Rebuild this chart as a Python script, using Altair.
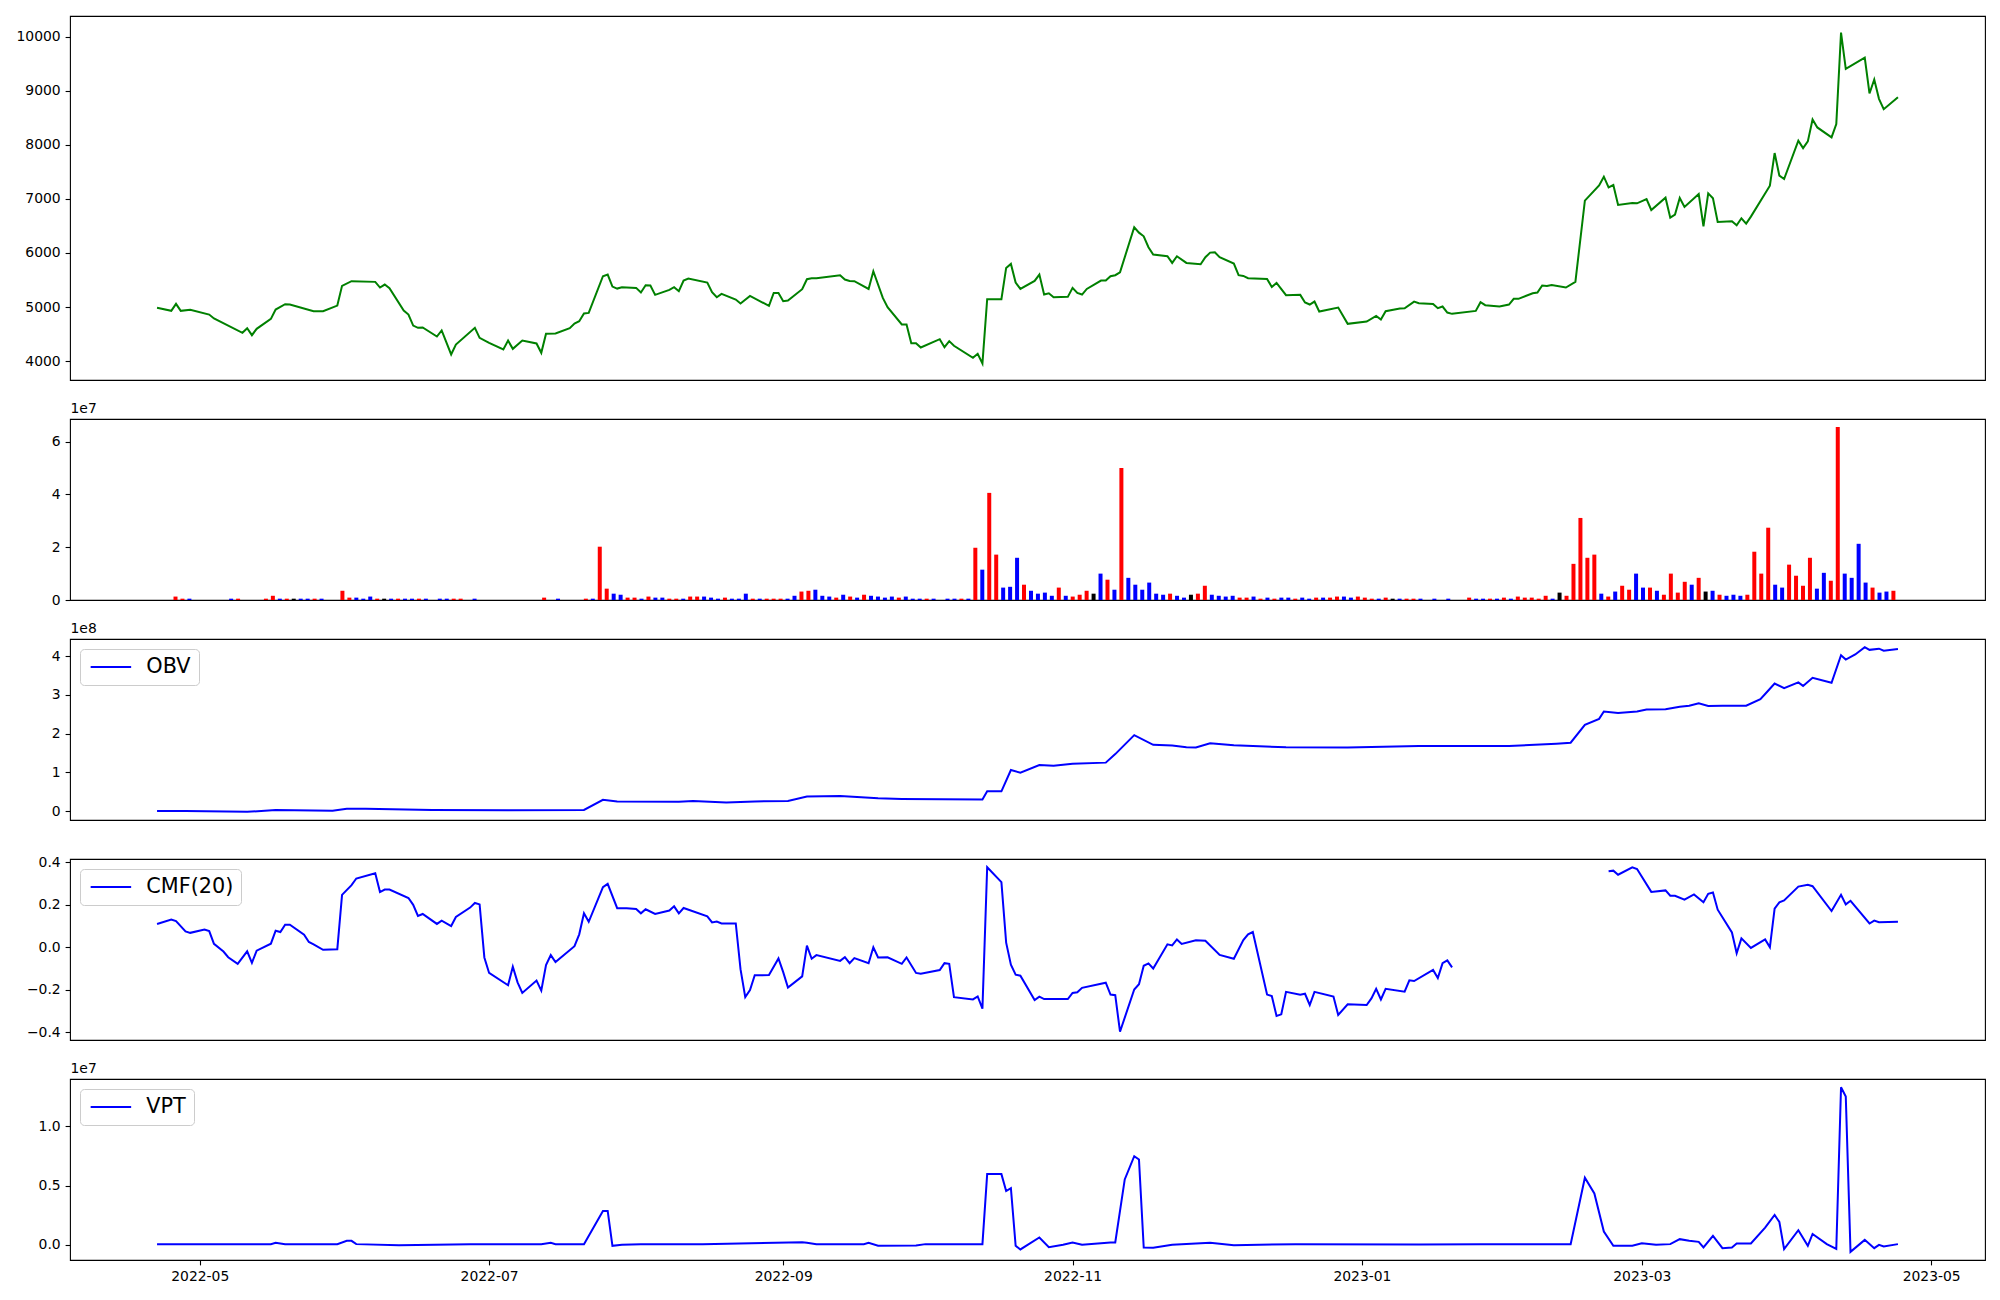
import altair as alt
import pandas as pd

START = "2022-04-22"   # first trading day in the data; day offsets below count from here

# ---------------- price (close) ----------------
price_day = [0, 3, 4, 5, 7, 11, 12, 18, 19, 20, 21, 24, 25, 27, 28, 33, 35, 38, 39, 41,
             46, 47, 48, 49, 52, 53, 54, 55, 56, 59, 60, 62, 63, 67, 68, 70, 73, 74, 75, 77,
             80, 81, 82, 84, 87, 88, 89, 90, 91, 94, 95, 96, 97, 98, 101, 102, 103, 104, 105, 108,
             109, 110, 111, 112, 116, 117, 118, 119, 122, 123, 125, 129, 130, 131, 132, 133, 136, 137, 138, 139,
             144, 145, 146, 147, 150, 151, 153, 154, 157, 158, 159, 160, 161, 165, 166, 167, 168, 172, 173, 174,
             175, 178, 179, 180, 181, 182, 185, 186, 187, 188, 189, 192, 193, 194, 195, 196, 199, 200, 201, 202,
             203, 206, 207, 208, 209, 210, 213, 214, 215, 217, 220, 221, 222, 223, 224, 227, 228, 229, 230, 234,
             235, 236, 238, 241, 242, 243, 244, 245, 249, 251, 255, 257, 258, 259, 262, 263, 265, 266, 269, 270,
             271, 272, 273, 278, 279, 280, 283, 285, 286, 287, 290, 291, 292, 293, 294, 297, 299, 301, 304, 305,
             306, 307, 308, 311, 312, 314, 315, 318, 319, 320, 321, 322, 325, 326, 327, 328, 329, 332, 333, 334,
             335, 336, 340, 341, 342, 343, 346, 347, 348, 349, 350, 353, 354, 355, 356, 360, 361, 362, 363, 364,
             367]
price_val = [4985, 4930, 5058, 4929, 4948, 4861, 4788, 4523, 4609, 4480, 4597, 4781, 4954, 5052, 5046, 4923, 4923, 5027, 5391, 5477,
             5465, 5360, 5415, 5348, 4935, 4861, 4658, 4615, 4621, 4455, 4566, 4123, 4307, 4615, 4430, 4338, 4215, 4381, 4227, 4381,
             4326, 4154, 4505, 4511, 4609, 4695, 4738, 4880, 4892, 5569, 5600, 5378, 5341, 5366, 5354, 5268, 5403, 5397, 5225, 5317,
             5366, 5292, 5489, 5526, 5452, 5274, 5181, 5243, 5138, 5065, 5206, 5021, 5261, 5261, 5108, 5120, 5329, 5514, 5532, 5532,
             5588, 5508, 5483, 5477, 5335, 5661, 5169, 4997, 4677, 4677, 4332, 4332, 4252, 4406, 4258, 4369, 4283, 4061, 4135, 3957,
             5145, 5145, 5723, 5797, 5452, 5335, 5483, 5600, 5231, 5255, 5181, 5188, 5354, 5261, 5231, 5335, 5489, 5489, 5569, 5588,
             5643, 6474, 6375, 6308, 6105, 5969, 5938, 5815, 5938, 5815, 5791, 5920, 6006, 6012, 5920, 5803, 5588, 5575, 5532, 5520,
             5372, 5446, 5218, 5225, 5083, 5046, 5101, 4917, 4991, 4689, 4732, 4837, 4769, 4923, 4972, 4978, 5101, 5071, 5058, 4978,
             5009, 4898, 4874, 4929, 5089, 5034, 5009, 5046, 5151, 5151, 5255, 5268, 5397, 5391, 5409, 5360, 5465, 6966, 7249, 7409,
             7212, 7255, 6886, 6923, 6917, 6997, 6794, 7021, 6652, 6708, 7015, 6849, 7089, 6492, 7101, 7009, 6572, 6584, 6511, 6640,
             6541, 6671, 7243, 7846, 7428, 7366, 8074, 7938, 8061, 8468, 8320, 8135, 8381, 10074, 9403, 9612, 8948, 9206, 8849, 8658,
             8880]

# ---------------- volume bars (bar number, volume in 1e7, colour) ----------------
vol_index = [2, 3, 4, 10, 11, 15, 16, 17, 18, 19, 20, 21, 22, 23, 26, 27, 28, 29, 30, 31,
             32, 33, 34, 35, 36, 37, 38, 40, 41, 42, 43, 45, 55, 57, 61, 62, 63, 64, 65, 66,
             67, 68, 69, 70, 71, 72, 73, 74, 75, 76, 77, 78, 79, 80, 81, 82, 83, 84, 85, 86,
             87, 88, 89, 90, 91, 92, 93, 94, 95, 96, 97, 98, 99, 100, 101, 102, 103, 104, 105, 106,
             107, 108, 109, 110, 111, 113, 114, 115, 116, 117, 118, 119, 120, 121, 122, 123, 124, 125, 126, 127,
             128, 129, 130, 131, 132, 133, 134, 135, 136, 137, 138, 139, 140, 141, 142, 143, 144, 145, 146, 147,
             148, 149, 150, 151, 152, 153, 154, 155, 156, 157, 158, 159, 160, 161, 162, 163, 164, 165, 166, 167,
             168, 169, 170, 171, 172, 173, 174, 175, 176, 177, 178, 179, 180, 181, 183, 185, 188, 189, 190, 191,
             192, 193, 194, 195, 196, 197, 198, 199, 200, 201, 202, 203, 204, 205, 206, 207, 208, 209, 210, 211,
             212, 213, 214, 215, 216, 217, 218, 219, 220, 221, 222, 223, 224, 225, 226, 227, 228, 229, 230, 231,
             232, 233, 234, 235, 236, 237, 238, 239, 240, 241, 242, 243, 244, 245, 246, 247, 248, 249]
vol_value = [0.13, 0.05, 0.05, 0.05, 0.05, 0.05, 0.16, 0.05, 0.05, 0.05, 0.05, 0.05, 0.05, 0.05, 0.35, 0.09, 0.09, 0.05, 0.13, 0.05,
             0.05, 0.05, 0.05, 0.05, 0.05, 0.05, 0.05, 0.05, 0.05, 0.05, 0.05, 0.05, 0.09, 0.05, 0.05, 0.05, 2.02, 0.43, 0.24, 0.20,
             0.09, 0.09, 0.05, 0.13, 0.09, 0.09, 0.05, 0.05, 0.05, 0.13, 0.13, 0.13, 0.09, 0.05, 0.09, 0.05, 0.05, 0.24, 0.05, 0.05,
             0.05, 0.05, 0.05, 0.05, 0.16, 0.32, 0.35, 0.39, 0.16, 0.13, 0.09, 0.20, 0.13, 0.09, 0.20, 0.16, 0.13, 0.09, 0.13, 0.09,
             0.13, 0.05, 0.05, 0.05, 0.05, 0.05, 0.05, 0.05, 0.05, 1.98, 1.15, 4.06, 1.72, 0.47, 0.50, 1.60, 0.58, 0.35, 0.24, 0.28,
             0.16, 0.47, 0.16, 0.13, 0.20, 0.35, 0.24, 1.00, 0.77, 0.39, 5.00, 0.84, 0.58, 0.39, 0.66, 0.24, 0.20, 0.24, 0.16, 0.09,
             0.20, 0.24, 0.54, 0.20, 0.16, 0.13, 0.16, 0.09, 0.09, 0.13, 0.05, 0.09, 0.05, 0.09, 0.09, 0.05, 0.09, 0.05, 0.09, 0.09,
             0.09, 0.13, 0.13, 0.09, 0.13, 0.09, 0.05, 0.05, 0.09, 0.05, 0.05, 0.05, 0.05, 0.05, 0.05, 0.05, 0.09, 0.05, 0.05, 0.05,
             0.05, 0.09, 0.05, 0.13, 0.09, 0.09, 0.05, 0.16, 0.05, 0.28, 0.16, 1.37, 3.11, 1.60, 1.72, 0.24, 0.13, 0.32, 0.54, 0.39,
             1.00, 0.47, 0.47, 0.35, 0.20, 1.00, 0.28, 0.69, 0.58, 0.84, 0.32, 0.35, 0.20, 0.16, 0.20, 0.16, 0.20, 1.83, 1.00, 2.74,
             0.58, 0.47, 1.34, 0.92, 0.54, 1.60, 0.43, 1.03, 0.73, 6.56, 1.00, 0.84, 2.13, 0.66, 0.47, 0.28, 0.32, 0.35]
vol_color = ["red", "red", "blue", "blue", "red", "red", "red", "blue", "red", "black", "blue", "blue", "red", "blue", "red", "red", "blue", "blue", "blue", "red",
             "black", "blue", "red", "blue", "blue", "red", "blue", "blue", "blue", "red", "red", "blue", "red", "blue", "red", "blue", "red", "red", "blue", "blue",
             "red", "red", "blue", "red", "blue", "blue", "red", "red", "blue", "red", "red", "blue", "blue", "blue", "red", "blue", "blue", "blue", "red", "blue",
             "red", "red", "red", "blue", "blue", "red", "red", "blue", "blue", "blue", "red", "blue", "red", "blue", "red", "blue", "blue", "blue", "blue", "red",
             "blue", "blue", "blue", "red", "blue", "blue", "blue", "red", "blue", "red", "blue", "red", "red", "blue", "blue", "blue", "red", "blue", "blue", "blue",
             "blue", "red", "blue", "red", "red", "red", "black", "blue", "red", "blue", "red", "blue", "blue", "blue", "blue", "blue", "blue", "red", "blue", "blue",
             "black", "red", "red", "blue", "blue", "blue", "blue", "red", "red", "blue", "red", "blue", "red", "blue", "blue", "red", "blue", "blue", "red", "blue",
             "red", "red", "blue", "blue", "red", "red", "red", "blue", "red", "black", "blue", "red", "red", "blue", "blue", "blue", "red", "blue", "blue", "red",
             "blue", "red", "blue", "red", "red", "red", "red", "red", "blue", "black", "red", "red", "red", "red", "red", "blue", "red", "blue", "red", "red",
             "blue", "blue", "red", "blue", "red", "red", "red", "red", "blue", "red", "black", "blue", "red", "blue", "blue", "blue", "red", "red", "red", "red",
             "blue", "blue", "red", "red", "red", "red", "blue", "blue", "red", "red", "blue", "blue", "blue", "blue", "red", "blue", "blue", "red"]
N_BARS = 250

# ---------------- OBV (1e8) ----------------
obv_day = [0, 6, 19, 25, 37, 40, 44, 58, 74, 90, 94, 97, 110, 113, 120, 126, 133, 137, 144, 152,
           157, 174, 175, 178, 180, 182, 186, 189, 193, 200, 202, 206, 210, 214, 217, 219, 222, 227, 238, 251,
           266, 285, 295, 298, 301, 304, 305, 308, 312, 314, 318, 321, 323, 325, 327, 330, 335, 338, 339, 341,
           343, 346, 347, 349, 353, 355, 356, 358, 360, 361, 363, 364, 367]
obv_val = [0.00, 0.00, -0.02, 0.03, 0.01, 0.06, 0.06, 0.03, 0.02, 0.03, 0.29, 0.25, 0.24, 0.26, 0.22, 0.25, 0.26, 0.375, 0.39, 0.33,
           0.315, 0.30, 0.51, 0.51, 1.06, 0.99, 1.19, 1.17, 1.22, 1.25, 1.47, 1.96, 1.71, 1.69, 1.65, 1.64, 1.75, 1.70, 1.645, 1.64,
           1.68, 1.68, 1.74, 1.765, 2.225, 2.38, 2.57, 2.53, 2.57, 2.62, 2.63, 2.69, 2.72, 2.78, 2.71, 2.72, 2.72, 2.89, 3.02, 3.29,
           3.17, 3.32, 3.23, 3.44, 3.31, 4.02, 3.91, 4.04, 4.23, 4.16, 4.19, 4.14, 4.18]

# ---------------- CMF(20) (two pieces, undefined in between) ----------------
cmf1_day = [0, 3, 4, 6, 7, 10, 11, 12, 14, 15, 17, 19, 20, 21, 24, 25, 26, 27, 28, 31,
            32, 33, 35, 38, 39, 41, 42, 46, 47, 48, 49, 53, 54, 55, 56, 59, 60, 62, 63, 66,
            67, 68, 69, 70, 74, 75, 76, 77, 80, 81, 82, 83, 84, 88, 89, 90, 91, 94, 95, 97,
            99, 101, 102, 103, 105, 108, 109, 110, 111, 116, 117, 118, 119, 122, 123, 124, 125, 126, 129, 131,
            132, 133, 136, 137, 138, 139, 144, 145, 146, 147, 150, 151, 152, 154, 157, 158, 160, 161, 165, 166,
            167, 168, 172, 173, 174, 175, 178, 179, 180, 181, 182, 185, 186, 187, 192, 193, 194, 195, 200, 201,
            202, 203, 206, 207, 208, 209, 210, 213, 214, 215, 216, 219, 221, 224, 227, 229, 230, 231, 234, 235,
            236, 237, 238, 241, 242, 243, 244, 248, 249, 251, 255, 256, 257, 258, 259, 263, 264, 265, 269, 270,
            271, 272, 273]
cmf1_val = [0.110, 0.131, 0.123, 0.075, 0.068, 0.084, 0.076, 0.016, -0.020, -0.047, -0.078, -0.019, -0.073, -0.016, 0.017, 0.078, 0.072, 0.106, 0.106, 0.059,
            0.025, 0.014, -0.012, -0.009, 0.247, 0.293, 0.324, 0.349, 0.260, 0.272, 0.272, 0.232, 0.200, 0.148, 0.157, 0.110, 0.125, 0.100, 0.143, 0.187,
            0.209, 0.202, -0.048, -0.121, -0.179, -0.092, -0.165, -0.215, -0.157, -0.204, -0.084, -0.037, -0.070, 0.005, 0.061, 0.160, 0.120, 0.283, 0.299, 0.184,
            0.184, 0.180, 0.160, 0.179, 0.157, 0.173, 0.193, 0.160, 0.185, 0.146, 0.117, 0.121, 0.112, 0.112, -0.103, -0.235, -0.202, -0.132, -0.131, -0.053,
            -0.117, -0.190, -0.137, 0.008, -0.054, -0.037, -0.064, -0.047, -0.075, -0.051, -0.075, 0.000, -0.048, -0.047, -0.078, -0.048, -0.121, -0.125, -0.107, -0.075,
            -0.078, -0.235, -0.246, -0.232, -0.289, 0.377, 0.307, 0.022, -0.082, -0.129, -0.134, -0.249, -0.233, -0.244, -0.244, -0.215, -0.212, -0.191, -0.167, -0.223,
            -0.226, -0.398, -0.199, -0.174, -0.087, -0.076, -0.100, 0.014, 0.009, 0.037, 0.016, 0.033, 0.031, -0.036, -0.054, 0.034, 0.061, 0.072, -0.223, -0.230,
            -0.324, -0.316, -0.210, -0.224, -0.219, -0.272, -0.210, -0.232, -0.319, -0.269, -0.272, -0.241, -0.196, -0.246, -0.196, -0.209, -0.156, -0.159, -0.107, -0.145,
            -0.075, -0.062, -0.095]
cmf2_day = [306, 307, 308, 311, 312, 315, 318, 319, 320, 322, 324, 326, 327, 328, 329, 332, 333, 334, 336, 339,
            340, 341, 342, 343, 346, 348, 349, 353, 355, 356, 357, 361, 362, 363, 367]
cmf2_val = [0.358, 0.361, 0.342, 0.377, 0.369, 0.261, 0.268, 0.243, 0.243, 0.224, 0.249, 0.212, 0.252, 0.258, 0.177, 0.070, -0.028, 0.042, -0.003, 0.037,
            0.000, 0.182, 0.212, 0.221, 0.286, 0.294, 0.288, 0.171, 0.247, 0.202, 0.219, 0.112, 0.126, 0.118, 0.120]

# ---------------- VPT (1e7) ----------------
vpt_day = [0, 24, 25, 27, 38, 40, 41, 42, 51, 66, 81, 83, 84, 90, 94, 95, 96, 98, 102, 115,
           136, 137, 139, 149, 150, 152, 160, 162, 174, 175, 178, 179, 180, 181, 182, 186, 188, 191, 193, 195,
           201, 202, 204, 206, 207, 208, 210, 214, 222, 227, 240, 266, 279, 298, 301, 303, 305, 307, 311, 313,
           316, 319, 321, 323, 325, 326, 328, 330, 332, 333, 336, 339, 341, 342, 343, 346, 348, 349, 352, 354,
           355, 356, 357, 360, 362, 363, 364, 367]
vpt_val = [0.006, 0.006, 0.017, 0.006, 0.006, 0.034, 0.034, 0.006, -0.003, 0.006, 0.006, 0.017, 0.006, 0.006, 0.286, 0.286, -0.008, 0.000, 0.006, 0.006,
           0.022, 0.017, 0.006, 0.006, 0.017, -0.008, -0.006, 0.006, 0.006, 0.597, 0.597, 0.454, 0.479, -0.008, -0.039, 0.062, -0.020, 0.000, 0.020, 0.000,
           0.020, 0.020, 0.552, 0.748, 0.720, -0.022, -0.025, 0.000, 0.017, -0.003, 0.006, 0.003, 0.006, 0.006, 0.566, 0.434, 0.112, -0.008, -0.008, 0.014,
           0.000, 0.006, 0.048, 0.034, 0.025, -0.022, 0.076, -0.028, -0.022, 0.011, 0.011, 0.146, 0.252, 0.193, -0.036, 0.123, -0.008, 0.092, 0.006, -0.034,
           1.330, 1.252, -0.059, 0.042, -0.028, 0.000, -0.014, 0.006]

# tick labels
month_ticks = ["2022-05-01", "2022-07-01", "2022-09-01", "2022-11-01", "2023-01-01", "2023-03-01", "2023-05-01"]
price_ticks = [4000, 5000, 6000, 7000, 8000, 9000, 10000]

# ---------------------------------------------------------------------------
base = pd.Timestamp(START)
DAY_MS = 86400000


def to_ms(days):
    return [int(base.value // 10**6) + int(round(d * DAY_MS)) for d in days]


span = max(price_day)
xdom = to_ms([-0.05 * span, 1.05 * span])
tick_ms = [int(pd.Timestamp(t).value // 10**6) for t in month_ticks]

W = 1915
H1, H = 364, 181
FONT = "DejaVu Sans"
FS = 13.9
LEG_FS = 20.8

xscale = alt.Scale(type="utc", domain=xdom, nice=False)


def yaxis(values, label_expr=None, offset_title=None, fmt=None):
    kw = dict(values=values, title=offset_title if offset_title else None)
    if label_expr:
        kw["labelExpr"] = label_expr
    if fmt:
        kw["format"] = fmt
    if offset_title:
        kw.update(titleAngle=0, titleAlign="left", titleBaseline="bottom",
                  titleX=0, titleY=-4)
    return alt.Axis(**kw)


def legend():
    # a wide horizontal line as the legend key (matplotlib style handle)
    return alt.Legend(title=None, orient="top-left", offset=10,
                      symbolType="M-2.7,0H2.7", symbolSize=225, symbolStrokeWidth=2,
                      symbolOffset=13, symbolFillColor="transparent",
                      labelFontSize=LEG_FS, labelFont=FONT, labelColor="black",
                      labelOffset=25, padding=7.5, fillColor="rgba(255,255,255,0.8)",
                      strokeColor="#cccccc", cornerRadius=4)


# price
price_df = pd.DataFrame({"t": to_ms(price_day), "v": price_val})
p1 = alt.Chart(price_df).mark_line(color="#008000", strokeWidth=2).encode(
    x=alt.X("t:T", scale=xscale, axis=None),
    y=alt.Y("v:Q", scale=alt.Scale(domain=[3651, 10380], nice=False, zero=False),
            axis=yaxis(price_ticks, fmt="d")),
).properties(width=W, height=H1)

# volume
vol_df = pd.DataFrame({"i": vol_index, "v": [x * 1e7 for x in vol_value], "c": vol_color})
last = N_BARS - 1
p2 = alt.Chart(vol_df).mark_bar(size=4).encode(
    x=alt.X("i:Q", scale=alt.Scale(domain=[-0.05 * last, 1.05 * last], nice=False, zero=False), axis=None),
    y=alt.Y("v:Q", scale=alt.Scale(domain=[0, 6.86e7], nice=False),
            axis=yaxis([0, 2e7, 4e7, 6e7], label_expr="format(datum.value/1e7, 'd')", offset_title="1e7")),
    color=alt.Color("c:N", scale=None),
).properties(width=W, height=H)

# OBV
obv_df = pd.DataFrame({"t": to_ms(obv_day), "v": [x * 1e8 for x in obv_val], "name": "OBV"})
p3 = alt.Chart(obv_df).mark_line(strokeWidth=2).encode(
    x=alt.X("t:T", scale=xscale, axis=None),
    y=alt.Y("v:Q", scale=alt.Scale(domain=[-0.23e8, 4.44e8], nice=False, zero=False),
            axis=yaxis([0, 1e8, 2e8, 3e8, 4e8], label_expr="format(datum.value/1e8, 'd')", offset_title="1e8")),
    color=alt.Color("name:N", scale=alt.Scale(domain=["OBV"], range=["#0000ff"]), legend=legend()),
).properties(width=W, height=H)

# CMF
cmf_df = pd.concat([
    pd.DataFrame({"t": to_ms(cmf1_day), "v": cmf1_val, "seg": 0}),
    pd.DataFrame({"t": to_ms(cmf2_day), "v": cmf2_val, "seg": 1}),
])
cmf_df["name"] = "CMF(20)"
p4 = alt.Chart(cmf_df).mark_line(strokeWidth=2).encode(
    x=alt.X("t:T", scale=xscale, axis=None),
    y=alt.Y("v:Q", scale=alt.Scale(domain=[-0.437, 0.416], nice=False, zero=False),
            axis=yaxis([-0.4, -0.2, 0.0, 0.2, 0.4], fmt=".1f")),
    detail="seg:N",
    color=alt.Color("name:N", scale=alt.Scale(domain=["CMF(20)"], range=["#0000ff"]), legend=legend()),
).properties(width=W, height=H)

# VPT
vpt_df = pd.DataFrame({"t": to_ms(vpt_day), "v": [x * 1e7 for x in vpt_val], "name": "VPT"})
p5 = alt.Chart(vpt_df).mark_line(strokeWidth=2).encode(
    x=alt.X("t:T", scale=xscale,
            axis=alt.Axis(values=tick_ms, labelExpr="utcFormat(datum.value, '%Y-%m')", title=None,
                          labelOverlap=False, labelFlush=False)),
    y=alt.Y("v:Q", scale=alt.Scale(domain=[-0.128e7, 1.40e7], nice=False, zero=False),
            axis=yaxis([0, 0.5e7, 1e7], label_expr="format(datum.value/1e7, '.1f')", offset_title="1e7")),
    color=alt.Color("name:N", scale=alt.Scale(domain=["VPT"], range=["#0000ff"]), legend=legend()),
).properties(width=W, height=H)

chart = alt.vconcat(p1, p2, p3, p4, p5, spacing=39, bounds="flush").resolve_scale(
    x="independent", y="independent", color="independent"
).resolve_legend(color="independent").properties(
    padding={"left": 7, "top": 7, "right": 5, "bottom": 5}
).configure_view(
    stroke="black", strokeWidth=1.1
).configure_axis(
    domain=False, grid=False, tickColor="black", tickSize=4.9, tickWidth=1.1,
    labelFont=FONT, labelFontSize=FS, labelColor="black", labelPadding=4.9,
    titleFont=FONT, titleFontSize=FS, titleFontWeight="normal", titleColor="black",
)

chart.save("out.html", embed_options={"renderer": "svg", "actions": False})
